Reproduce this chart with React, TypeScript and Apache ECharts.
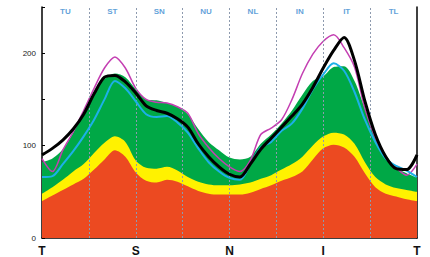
import React, { useEffect, useRef } from "react";
import * as echarts from "echarts";

const degrees = [0,10,20,30,40,50,60,70,80,90,100,110,120,130,140,150,160,170,180,190,200,210,220,230,240,250,260,270,280,290,300,310,320,330,340,350,360];
const redTop = [40,46,52,58,64,74,85,95,88,71,62,60,63,61,56,51,48,47,47,47,49,53,57,62,66,72,85,97,101,98,88,70,55,48,45,42,40];
const yellowTop = [48,55,63,72,80,92,103,110,104,84,76,75,77,73,66,61,58,57,57,58,60,64,68,74,80,88,100,110,114,112,102,82,66,58,54,52,50];
const greenTop = [82,86,96,114,136,158,172,178,174,161,150,149,146,142,134,118,104,95,87,85,88,102,112,124,138,155,170,175,185,186,170,140,112,90,76,70,65];
const blackLine = [90,97,106,118,134,156,174,176,169,157,143,138,135,129,120,102,88,77,69,66,80,96,108,120,132,145,163,184,203,217,192,148,112,88,75,74,90];
const magentaLine = [86,72,95,115,138,162,184,196,184,162,150,147,146,142,135,113,98,86,77,72,84,112,119,128,150,178,199,213,220,206,185,140,108,87,76,68,80];
const cyanLine = [66,67,80,94,110,128,150,170,162,148,134,131,132,125,114,97,82,72,65,63,80,98,104,116,124,140,161,177,189,181,158,128,104,86,78,73,66];

const xTickLabels = ["T", "S", "N", "I", "T"];
const sectionNames = ["TU", "ST", "SN", "NU", "NL", "IN", "IT", "TL"];
const sectionWidth = 45;
const sectionLabelLevel = 245;

const pairs = (ys: number[]) => degrees.map((d, i) => [d, ys[i]]);

export default function App() {
  const ref = useRef<HTMLDivElement>(null);
  useEffect(() => {
    if (!ref.current) return;
    const chart = echarts.init(ref.current, null, { renderer: "svg" });
    const area = (name: string, ys: number[], color: string) => ({
      name,
      type: "line",
      data: pairs(ys),
      smooth: 0.3,
      showSymbol: false,
      lineStyle: { width: 0 },
      areaStyle: { color, opacity: 1 },
      z: 1,
    });
    const line = (name: string, ys: number[], color: string, width: number, z: number) => ({
      name,
      type: "line",
      data: pairs(ys),
      smooth: 0.3,
      showSymbol: false,
      lineStyle: { color, width },
      z,
    });
    const dividers = sectionNames.slice(1).map((_, i) => ({ xAxis: (i + 1) * sectionWidth }));
    chart.setOption({
      animation: false,
      grid: { left: 42, right: 13, top: 7, bottom: 19 },
      xAxis: {
        type: "value",
        min: 0,
        max: 360,
        interval: 45,
        axisLine: { show: true, lineStyle: { color: "#000", width: 1.5 } },
        axisTick: { show: false },
        splitLine: { show: false },
        axisLabel: {
          margin: 7,
          color: "#111",
          fontSize: 12,
          fontWeight: "bold",
          fontFamily: "Liberation Sans, Arial, sans-serif",
          formatter: (v: number) => (v % 90 === 0 ? xTickLabels[v / 90] : ""),
        },
      },
      yAxis: [
        {
          type: "value",
          min: 0,
          max: 250,
          interval: 50,
          axisLine: { show: true, lineStyle: { color: "#000", width: 1.5 } },
          axisTick: { show: true, inside: true, length: 3, lineStyle: { color: "#000" } },
          splitLine: { show: false },
          axisLabel: {
            margin: 6,
            color: "#222",
            fontSize: 8,
            fontFamily: "Liberation Sans, Arial, sans-serif",
            formatter: (v: number) => (v % 100 === 0 && v <= 200 ? String(v) : ""),
          },
        },
        {
          type: "value",
          position: "right",
          min: 0,
          max: 250,
          interval: 50,
          axisLine: { show: true, lineStyle: { color: "#000", width: 1.5 } },
          axisTick: { show: false },
          axisLabel: { show: false },
          splitLine: { show: false },
        },
      ],
      series: [
        area("green", greenTop, "#00a846"),
        area("yellow", yellowTop, "#fff200"),
        area("red", redTop, "#ec4a21"),
        {
          name: "dividers",
          type: "line",
          data: [],
          z: 3,
          markLine: {
            silent: true,
            symbol: "none",
            label: { show: false },
            lineStyle: { color: "#8d9aae", width: 1, type: [2, 2] },
            data: dividers,
          },
        },
        {
          name: "sections",
          type: "scatter",
          symbolSize: 0,
          data: sectionNames.map((n, i) => ({ value: [(i + 0.5) * sectionWidth, sectionLabelLevel], name: n })),
          label: {
            show: true,
            position: "inside",
            formatter: (p: any) => p.name,
            color: "#3689cf",
            fontSize: 8,
            fontWeight: "bold",
            fontFamily: "Liberation Sans, Arial, sans-serif",
          },
          z: 5,
        },
        line("magenta", magentaLine, "#c43fb2", 1.5, 4),
        line("cyan", cyanLine, "#1cb0e8", 2, 5),
        line("black", blackLine, "#000000", 3, 6),
      ],
    });
    return () => chart.dispose();
  }, []);
  return <div ref={ref} style={{ width: 430, height: 257, position: "absolute", left: 0, top: 0 }} />;
}
